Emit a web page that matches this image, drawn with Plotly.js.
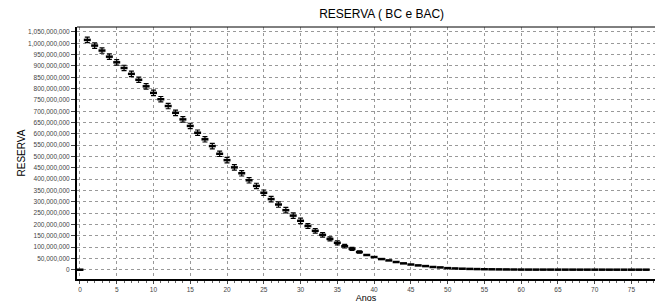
<!DOCTYPE html>
<html>
<head>
<meta charset="utf-8">
<script src="https://cdn.plot.ly/plotly-3.0.1.min.js"></script>
<style>html,body{margin:0;padding:0;background:#fff;}#chart{width:655px;height:304px;}</style>
</head>
<body>
<div id="chart"></div>
<script>
// Years (x axis, "Anos")
const years = [0,1,2,3,4,5,6,7,8,9,10,11,12,13,14,15,16,17,18,19,20,21,22,23,24,25,26,27,28,29,30,31,32,33,34,35,36,37,38,39,40,41,42,43,44,45,46,47,48,49,50,51,52,53,54,55,56,57,58,59,60,61,62,63,64,65,66,67,68,69,70,71,72,73,74,75,76,77];
// Reserve (millions)
const reserveMillions = [0,1015,990,968,941,916,891,865,839,810,781,753,723,693,664,635,605,576,546,512,484,452,426,395,370,340,312,288,263,239,216,193,172,154,136,119,104,92,78,65,56,47,41,34,28,23,19,16,12,10,7,5.5,4.5,3.5,2.8,2.2,1.8,1.4,1.1,0.9,0.7,0.6,0.5,0.5,0.5,0.4,0.4,0.4,0.3,0.3,0.3,0.3,0.2,0.2,0.2,0.2,0.2,0.2];
// Error bar half-size (millions)
const errorMillions = [0,12,12,12,12,12,12,12,12,12,12,12,12,12,12,12,12,12,12,12,12,12,12,12,12,12,12,12,12,12,12,11,10,10,9,9,8,7,5,0,0,0,0,0,0,0,0,0,0,0,0,0,0,0,0,0,0,0,0,0,0,0,0,0,0,0,0,0,0,0,0,0,0,0,0,0,0,0];
// Axis tick values
const yTicks = [0,50,100,150,200,250,300,350,400,450,500,550,600,650,700,750,800,850,900,950,1000,1050];
const xTicks = [0,5,10,15,20,25,30,35,40,45,50,55,60,65,70,75];

const reserve = reserveMillions.map(v => v * 1e6);
const errs = errorMillions.map(v => v * 1e6);

const trace = {
  x: years,
  y: reserve,
  type: 'scatter',
  mode: 'markers',
  marker: {symbol: 'line-ew', size: 5, color: '#000', line: {color: '#000', width: 2.5}},
  error_y: {type: 'data', array: errs, visible: true, color: '#000', thickness: 1.2, width: 2.5},
  hoverinfo: 'x+y'
};

const tickFont = {family: 'Liberation Sans, Arial, sans-serif', size: 6.5, color: '#444'};

const layout = {
  width: 655, height: 304,
  margin: {l: 77, r: 0, t: 27, b: 25, pad: 0},
  paper_bgcolor: '#fff', plot_bgcolor: '#fff',
  showlegend: false,
  font: {family: 'Liberation Sans, Arial, sans-serif', color: '#000'},
  title: {text: 'RESERVA ( BC e BAC)', font: {family: 'Liberation Sans, Arial, sans-serif', size: 12, color: '#000'},
          x: 0.527, xanchor: 'center', xref: 'paper', y: 0.955, yanchor: 'middle', yref: 'container'},
  xaxis: {
    range: [-0.4, 78.2],
    tickvals: xTicks, ticktext: xTicks.map(String),
    ticks: 'outside', ticklen: 3, tickcolor: '#444', tickwidth: 1,
    minor: {dtick: 1, tick0: 0, ticks: 'outside', ticklen: 2, tickcolor: '#666', showgrid: false},
    tickfont: tickFont,
    showgrid: true, gridcolor: '#999', griddash: 'dot', gridwidth: 1,
    zeroline: false,
    showline: true, linecolor: '#000', linewidth: 2,
    title: {text: 'Anos', font: {family: 'Liberation Sans, Arial, sans-serif', size: 9, color: '#000'}, standoff: 2}
  },
  yaxis: {
    range: [-41e6, 1072e6],
    tickvals: yTicks.map(v => v * 1e6),
    tickformat: ',d',
    ticks: 'outside', ticklen: 4, tickcolor: '#444', tickwidth: 1,
    tickfont: tickFont,
    showgrid: true, gridcolor: '#999', griddash: 'dot', gridwidth: 1,
    zeroline: false,
    showline: true, linecolor: '#000', linewidth: 2,
    title: {text: 'RESERVA', font: {family: 'Liberation Sans, Arial, sans-serif', size: 10, color: '#000'}, standoff: 1}
  },
  shapes: [
    {type: 'line', xref: 'paper', yref: 'paper', x0: 0, x1: 1, y0: 1, y1: 1, line: {color: '#000', width: 1}}
  ]
};

Plotly.newPlot('chart', [trace], layout, {displayModeBar: false, staticPlot: true});
</script>
</body>
</html>
